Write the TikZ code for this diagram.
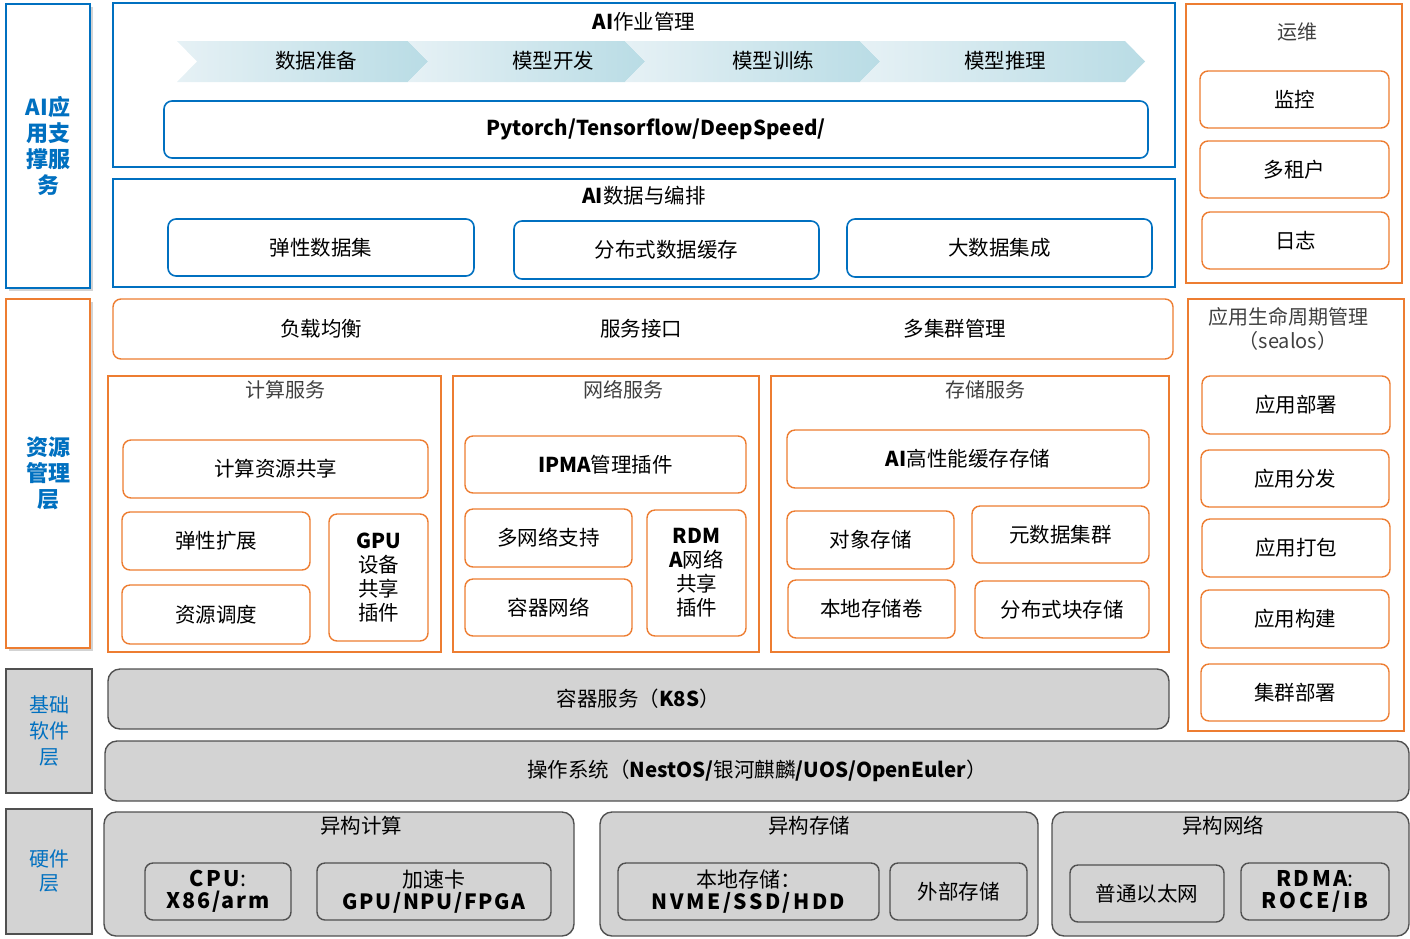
\documentclass[tikz,border=0pt]{standalone}
\usepackage{fontspec}
\setmainfont{Noto Sans CJK SC}
\usetikzlibrary{shadows}
\definecolor{aiblue}{HTML}{0070C0}
\definecolor{resorange}{HTML}{ED7D31}
\definecolor{basegray}{HTML}{D3D3D3}
\definecolor{edgegray}{HTML}{505050}
\definecolor{chevl}{HTML}{E6F1F5}
\definecolor{chevr}{HTML}{B9DCE5}
\tikzset{
  frameb/.style={draw=aiblue, line width=1.6pt},
  boxb/.style={draw=aiblue, line width=1.6pt, rounded corners=8pt, fill=white},
  frameo/.style={draw=resorange, line width=1.4pt},
  boxo/.style={draw=resorange, line width=1.4pt, rounded corners=8pt, fill=white, align=center},
  boxg/.style={draw=edgegray, line width=1.4pt, rounded corners=12pt, fill=basegray, align=center},
  layer/.style={line width=1.6pt, text=aiblue, align=center},
  ttl/.style={text=black!75, font=\fontsize{20}{22}\selectfont},
}
\begin{document}
\begin{tikzpicture}[x=1pt, y=-1pt, font=\fontsize{20.5}{22}\selectfont, inner sep=0pt]
  \useasboundingbox (0,0) rectangle (1410,938);

  % Layer labels
  \node (ai) [layer, draw=aiblue, fill=white, drop shadow={opacity=0.35}, minimum width=84pt, minimum height=284pt, font=\fontsize{22}{26}\selectfont\bfseries] at (48,146) {AI应\\用支\\撑服\\务};
  \node (res) [layer, draw=resorange, fill=white, drop shadow={opacity=0.35}, minimum width=84pt, minimum height=349pt, font=\fontsize{22}{26}\selectfont\bfseries] at (48,473.5) {资源\\管理\\层};
  \node (base) [layer, draw=edgegray, fill=basegray, minimum width=86pt, minimum height=124pt, font=\fontsize{20}{26}\selectfont] at (49,731) {基础\\软件\\层};
  \node (hw) [layer, draw=edgegray, fill=basegray, minimum width=86pt, minimum height=125pt, font=\fontsize{20}{24}\selectfont] at (49,871.5) {硬件\\层};

  % AI job management
  \node (jobs) [frameb, minimum width=1062pt, minimum height=164pt] at (644,85) {};
  \node (jobsT) at (644,22) {\textbf{AI}作业管理};
  \foreach \xa/\xb in {177/408, 408/625, 625/860, 860/1125}
    \shade[left color=chevl, right color=chevr] (\xa,41) -- (\xb,41) -- (\xb+20,61.5) -- (\xb,82) -- (\xa,82) -- (\xa+20,61.5) -- cycle;
  \node (prep) at (316,61) {数据准备};
  \node (dev) at (553,61) {模型开发};
  \node (train) at (773,61) {模型训练};
  \node (infer) at (1005,61) {模型推理};
  \node (pytorch) [boxb, minimum width=984pt, minimum height=57pt, font=\fontsize{20.5}{22}\selectfont\bfseries] at (656,129.5) {Pytorch/Tensorflow/DeepSpeed/};

  % AI data and orchestration
  \node (data) [frameb, minimum width=1062pt, minimum height=108pt] at (644,233) {};
  \node (dataT) at (644,196) {\textbf{AI}数据与编排};
  \node (ds1) [boxb, minimum width=306pt, minimum height=57pt] at (321,247.5) {弹性数据集};
  \node (ds2) [boxb, minimum width=305pt, minimum height=58pt] at (666.5,250) {分布式数据缓存};
  \node (ds3) [boxb, minimum width=305pt, minimum height=58pt] at (999.5,248) {大数据集成};

  % Operations
  \node (ops) [frameo, minimum width=216pt, minimum height=279pt] at (1294,143.5) {};
  \node (opsT) [ttl] at (1297,32) {运维};
  \node (mon) [boxo, minimum width=189pt, minimum height=57pt] at (1294.5,99.5) {监控};
  \node (ten) [boxo, minimum width=189pt, minimum height=57pt] at (1294.5,169.5) {多租户};
  \node (log) [boxo, minimum width=187pt, minimum height=57pt] at (1295.5,240.5) {日志};

  % Application lifecycle
  \node (life) [frameo, minimum width=216pt, minimum height=432pt] at (1296,515) {};
  \node (lifeT) [ttl, align=center, font=\fontsize{20}{24}\selectfont] at (1288,329) {应用生命周期管理\\（sealos）};
  \node (deploy) [boxo, minimum width=188pt, minimum height=58pt] at (1296,405) {应用部署};
  \node (distr) [boxo, minimum width=188pt, minimum height=57pt] at (1295,478.5) {应用分发};
  \node (pack) [boxo, minimum width=188pt, minimum height=58pt] at (1296,548) {应用打包};
  \node (build) [boxo, minimum width=188pt, minimum height=58pt] at (1295,619) {应用构建};
  \node (cluster) [boxo, minimum width=188pt, minimum height=57pt] at (1295,692.5) {集群部署};

  % Resource management
  \node (lb) [boxo, minimum width=1060pt, minimum height=60pt] at (643,329) {};
  \node (lb1) at (321,329) {负载均衡};
  \node (lb2) at (641,329) {服务接口};
  \node (lb3) at (955,329) {多集群管理};

  \node (calc) [frameo, minimum width=333pt, minimum height=276pt] at (274.5,514) {};
  \node (calcT) [ttl] at (285,390) {计算服务};
  \node (share) [boxo, minimum width=305pt, minimum height=58pt] at (275.5,469) {计算资源共享};
  \node (elastic) [boxo, minimum width=188pt, minimum height=58pt] at (216,541) {弹性扩展};
  \node (sched) [boxo, minimum width=188pt, minimum height=59pt] at (216,614.5) {资源调度};
  \node (gpu) [boxo, minimum width=99pt, minimum height=127pt, font=\fontsize{20.5}{24}\selectfont] at (378.5,577.5) {\textbf{GPU}\\设备\\共享\\插件};

  \node (net) [frameo, minimum width=306pt, minimum height=276pt] at (606,514) {};
  \node (netT) [ttl] at (623,390) {网络服务};
  \node (ipma) [boxo, minimum width=281pt, minimum height=57pt] at (605.5,464.5) {\textbf{IPMA}管理插件};
  \node (multi) [boxo, minimum width=167pt, minimum height=58pt] at (548.5,538) {多网络支持};
  \node (cnet) [boxo, minimum width=167pt, minimum height=57pt] at (548.5,607.5) {容器网络};
  \node (rdma) [boxo, minimum width=99pt, minimum height=126pt, font=\fontsize{20.5}{24}\selectfont] at (696.5,573) {\textbf{RDM}\\\textbf{A}网络\\共享\\插件};

  \node (stor) [frameo, minimum width=398pt, minimum height=276pt] at (970,514) {};
  \node (storT) [ttl] at (985,390) {存储服务};
  \node (aicache) [boxo, minimum width=362pt, minimum height=58pt] at (968,459) {\textbf{AI}高性能缓存存储};
  \node (obj) [boxo, minimum width=167pt, minimum height=58pt] at (870.5,540) {对象存储};
  \node (meta) [boxo, minimum width=177pt, minimum height=57pt] at (1060.5,534.5) {元数据集群};
  \node (local) [boxo, minimum width=167pt, minimum height=58pt] at (871.5,609) {本地存储卷};
  \node (block) [boxo, minimum width=174pt, minimum height=57pt] at (1062,609.5) {分布式块存储};

  % Base software
  \node (k8s) [boxg, minimum width=1061pt, minimum height=60pt] at (638.5,699) {容器服务（\textbf{K8S}）};
  \node (os) [boxg, minimum width=1304pt, minimum height=60pt] at (757,771) {操作系统（\textbf{NestOS/}银河麒麟\textbf{/UOS/OpenEuler}）};

  % Hardware
  \node (hcalc) [boxg, minimum width=470pt, minimum height=124pt] at (339,874) {};
  \node (hcalcT) at (361,826) {异构计算};
  \node (cpu) [boxg, rounded corners=8pt, minimum width=146pt, minimum height=57pt, font=\fontsize{21.5}{24}\selectfont] at (218,891.5) {{\bfseries\addfontfeature{LetterSpace=12}CPU}:\\[-2pt]{\bfseries\addfontfeature{LetterSpace=8}X86/arm}};
  \node (acc) [boxg, rounded corners=8pt, minimum width=234pt, minimum height=57pt, font=\fontsize{21}{24}\selectfont] at (434,891.5) {加速卡\\[-2pt]{\bfseries\addfontfeature{LetterSpace=8}GPU/NPU/FPGA}};

  \node (hstor) [boxg, minimum width=438pt, minimum height=124pt] at (819,874) {};
  \node (hstorT) at (809,826) {异构存储};
  \node (lstor) [boxg, rounded corners=8pt, minimum width=261pt, minimum height=57pt, font=\fontsize{21}{24}\selectfont] at (748.5,891.5) {本地存储：\\[-2pt]{\bfseries\addfontfeature{LetterSpace=12}NVME/SSD/HDD}};
  \node (ext) [boxg, rounded corners=8pt, minimum width=137pt, minimum height=57pt] at (958.5,891.5) {外部存储};

  \node (hnet) [boxg, minimum width=357pt, minimum height=124pt] at (1230.5,874) {};
  \node (hnetT) at (1223,826) {异构网络};
  \node (eth) [boxg, rounded corners=8pt, minimum width=154pt, minimum height=57pt] at (1147,893.5) {普通以太网};
  \node (rdmahw) [boxg, rounded corners=8pt, minimum width=148pt, minimum height=57pt, font=\fontsize{21.5}{24}\selectfont] at (1315,891.5) {{\bfseries\addfontfeature{LetterSpace=12}RDMA}:\\[-2pt]{\bfseries\addfontfeature{LetterSpace=12}ROCE/IB}};
\end{tikzpicture}
\end{document}
